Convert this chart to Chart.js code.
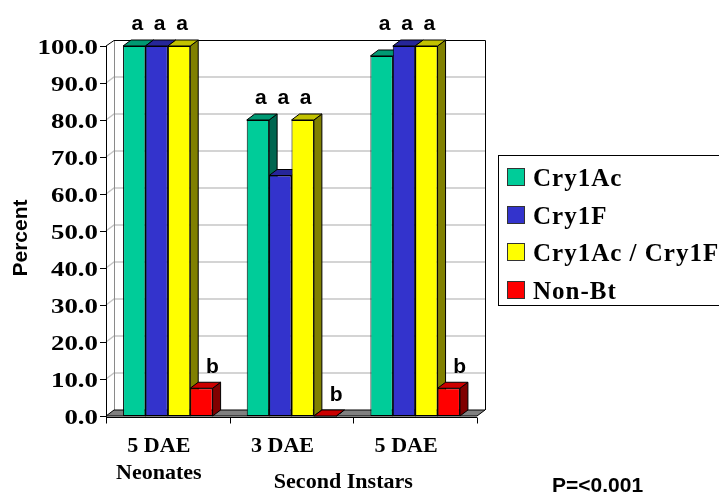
<!DOCTYPE html>
<html>
<head>
<meta charset="utf-8">
<script src="https://cdn.jsdelivr.net/npm/chart.js@4.4.1/dist/chart.umd.min.js"></script>
<style>
  html, body { margin: 0; padding: 0; background: #fff; overflow: hidden; }
  canvas { display: block; }
</style>
</head>
<body>
<canvas id="chart" width="719" height="494"></canvas>
<script>
// ---- data ----
const categories = [["5 DAE", "Neonates"], ["3 DAE"], ["5 DAE"]];
const groupLabel = "Second Instars";          // spans the 2nd and 3rd categories
const seriesNames = ["Cry1Ac", "Cry1F", "Cry1Ac / Cry1F", "Non-Bt"];
const cry1Ac      = [100, 80, 97.3];
const cry1F       = [100, 65, 100];
const cry1AcCry1F = [100, 80, 100];
const nonBt       = [7.5, 0, 7.5];
const letters = [
  ["a", "a", "a"],
  ["a", "a", "a"],
  ["a", "a", "a"],
  ["b", "b", "b"]
];
const yTickValues = [0, 10, 20, 30, 40, 50, 60, 70, 80, 90, 100];
const yTitle = "Percent";
const pNote = "P=<0.001";

// ---- styling ----
const frontColors = ["#00cc99", "#3333cc", "#ffff00", "#ff0000"];
const topColors   = ["#009973", "#262699", "#c2c200", "#cc0000"];
const sideColors  = ["#006650", "#1a1a66", "#808000", "#800000"];
const DX = 8, DY = -6;   // depth offset of the pseudo-3D box
const SERIF = '"Liberation Serif", "Times New Roman", serif';
const SANS = '"Liberation Sans", Arial, sans-serif';

function stretchText(ctx, text, x, y, sx, align) {
  ctx.save();
  ctx.translate(x, y);
  ctx.scale(sx, 1);
  ctx.textAlign = align;
  ctx.fillText(text, 0, 0);
  ctx.restore();
}

function poly(ctx, pts, fill, stroke) {
  ctx.beginPath();
  ctx.moveTo(pts[0][0], pts[0][1]);
  for (let i = 1; i < pts.length; i++) ctx.lineTo(pts[i][0], pts[i][1]);
  ctx.closePath();
  if (fill) { ctx.fillStyle = fill; ctx.fill(); }
  if (stroke) { ctx.strokeStyle = stroke; ctx.stroke(); }
}

const depthPlugin = {
  id: 'depthBox',
  beforeDatasetsDraw(chart) {
    const { ctx, chartArea: a, scales: { y } } = chart;
    const y0 = y.getPixelForValue(0);
    ctx.save();
    ctx.lineJoin = 'miter';

    // gridlines on the side wall and back wall
    ctx.strokeStyle = '#c6c6c6';
    ctx.lineWidth = 1.5;
    yTickValues.forEach(v => {
      if (v === 0 || v === 100) return;
      const py = y.getPixelForValue(v);
      ctx.beginPath();
      ctx.moveTo(a.left, py);
      ctx.lineTo(a.left + DX, py + DY);
      ctx.lineTo(a.right + DX, py + DY);
      ctx.stroke();
    });

    // back-left edge
    ctx.lineWidth = 1;
    ctx.strokeStyle = '#8a8a8a';
    ctx.beginPath();
    ctx.moveTo(a.left + DX + 0.5, a.top + DY);
    ctx.lineTo(a.left + DX + 0.5, y0 + DY);
    ctx.stroke();

    // outer frame of the box
    ctx.strokeStyle = '#000';
    ctx.beginPath();
    ctx.moveTo(a.left, a.top);
    ctx.lineTo(a.left + DX, a.top + DY + 0.5);
    ctx.lineTo(a.right + DX + 0.5, a.top + DY + 0.5);
    ctx.lineTo(a.right + DX + 0.5, y0 + DY);
    ctx.stroke();

    // floor
    poly(ctx, [[a.left, y0], [a.left + DX, y0 + DY], [a.right + DX, y0 + DY], [a.right, y0]], '#808080', '#000');

    // bar side faces, then top faces
    const metas = chart.data.datasets.map((d, i) => chart.getDatasetMeta(i));
    metas.forEach((m, i) => m.data.forEach(bar => {
      const p = bar.getProps(['x', 'y', 'base', 'width'], true);
      const x1 = p.x + p.width / 2;
      poly(ctx, [[x1, p.y], [x1 + DX, p.y + DY], [x1 + DX, p.base + DY], [x1, p.base]], sideColors[i], '#000');
    }));
    metas.forEach((m, i) => m.data.forEach(bar => {
      const p = bar.getProps(['x', 'y', 'base', 'width'], true);
      const x0 = p.x - p.width / 2, x1 = p.x + p.width / 2;
      poly(ctx, [[x0, p.y], [x0 + DX, p.y + DY], [x1 + DX, p.y + DY], [x1, p.y]], topColors[i], '#000');
    }));
    ctx.restore();
  },
  afterDraw(chart) {
    const { ctx, chartArea: a, scales: { x, y } } = chart;
    const y0 = y.getPixelForValue(0);
    ctx.save();
    ctx.fillStyle = '#000';
    ctx.strokeStyle = '#000';
    ctx.lineWidth = 1;

    // value axis line, ticks and labels
    ctx.beginPath();
    ctx.moveTo(a.left + 0.5, a.top);
    ctx.lineTo(a.left + 0.5, y0 + 2);
    ctx.stroke();
    ctx.font = 'bold 22px ' + SERIF;
    ctx.textBaseline = 'alphabetic';
    yTickValues.forEach(v => {
      const py = Math.round(y.getPixelForValue(v)) + 0.5;
      ctx.beginPath();
      ctx.moveTo(a.left - 6, py);
      ctx.lineTo(a.left, py);
      ctx.stroke();
      stretchText(ctx, v.toFixed(1), a.left - 8, py + 7.5, 1.22, 'right');
    });

    // category axis line and boundary ticks
    const ax = y0 + 1.5;
    ctx.beginPath();
    ctx.moveTo(a.left, ax);
    ctx.lineTo(a.right, ax);
    ctx.stroke();
    const slot = (a.right - a.left) / categories.length;
    for (let k = 0; k <= categories.length; k++) {
      const bx = Math.round(a.left + k * slot) + 0.5;
      ctx.beginPath();
      ctx.moveTo(bx, ax);
      ctx.lineTo(bx, ax + 6);
      ctx.stroke();
    }

    // category labels
    ctx.font = 'bold 21px ' + SERIF;
    categories.forEach((lines, i) => {
      const cx = x.getPixelForValue(i) - 9;
      lines.forEach((t, j) => stretchText(ctx, t, cx, 452 + j * 27, 1.05, 'center'));
    });
    const gx = (x.getPixelForValue(1) + x.getPixelForValue(2)) / 2 - 10;
    stretchText(ctx, groupLabel, gx, 488, 1.05, 'center');

    // significance letters
    ctx.font = 'bold 21px ' + SANS;
    ctx.textAlign = 'center';
    ctx.textBaseline = 'middle';
    const metas = chart.data.datasets.map((d, i) => chart.getDatasetMeta(i));
    categories.forEach((c, ci) => {
      let groupTop = Infinity;
      metas.forEach((m, si) => {
        if (letters[si][ci] === 'a') groupTop = Math.min(groupTop, m.data[ci].y);
      });
      metas.forEach((m, si) => {
        const bar = m.data[ci];
        const t = letters[si][ci];
        if (t === 'a') ctx.fillText(t, bar.x + 3, groupTop - 22);
        else ctx.fillText(t, bar.x + 11, bar.y - 21);
      });
    });

    // axis title
    ctx.save();
    ctx.font = 'bold 21px ' + SANS;
    ctx.textBaseline = 'alphabetic';
    ctx.translate(27, 238);
    ctx.rotate(-Math.PI / 2);
    ctx.fillText(yTitle, 0, 0);
    ctx.restore();

    // legend
    ctx.lineWidth = 1;
    ctx.fillStyle = '#fff';
    ctx.fillRect(498.5, 155.5, 240, 150);
    ctx.strokeRect(498.5, 155.5, 240, 150);
    ctx.font = 'bold 25px ' + SERIF;
    ctx.textAlign = 'left';
    ctx.textBaseline = 'alphabetic';
    if ('letterSpacing' in ctx) ctx.letterSpacing = '1px';
    chart.data.datasets.forEach((d, i) => {
      const top = 168 + i * 37.5;
      ctx.fillStyle = d.backgroundColor;
      ctx.fillRect(507, Math.round(top), 18, 18);
      ctx.strokeStyle = '#333';
      ctx.strokeRect(507.5, Math.round(top) + 0.5, 17, 17);
      ctx.fillStyle = '#000';
      ctx.fillText(d.label, 533, top + 18);
    });
    if ('letterSpacing' in ctx) ctx.letterSpacing = '0px';

    // significance note
    ctx.font = 'bold 21px ' + SANS;
    ctx.fillText(pNote, 552, 492);
    ctx.restore();
  }
};

const seriesValues = [cry1Ac, cry1F, cry1AcCry1F, nonBt];

new Chart(document.getElementById('chart'), {
  type: 'bar',
  data: {
    labels: categories.map(c => c.join(' ')),
    datasets: seriesValues.map((vals, i) => ({
      label: seriesNames[i],
      data: vals,
      backgroundColor: frontColors[i],
      borderColor: '#000',
      borderWidth: 1,
      borderSkipped: false
    }))
  },
  options: {
    responsive: false,
    animation: false,
    devicePixelRatio: 1,
    layout: { padding: { left: 106, top: 46, right: 242, bottom: 78 } },
    datasets: { bar: { categoryPercentage: 0.724, barPercentage: 1 } },
    plugins: { legend: { display: false }, tooltip: { enabled: false } },
    scales: {
      x: { display: false },
      y: { display: false, min: 0, max: 100 }
    }
  },
  plugins: [depthPlugin]
});
</script>
</body>
</html>
